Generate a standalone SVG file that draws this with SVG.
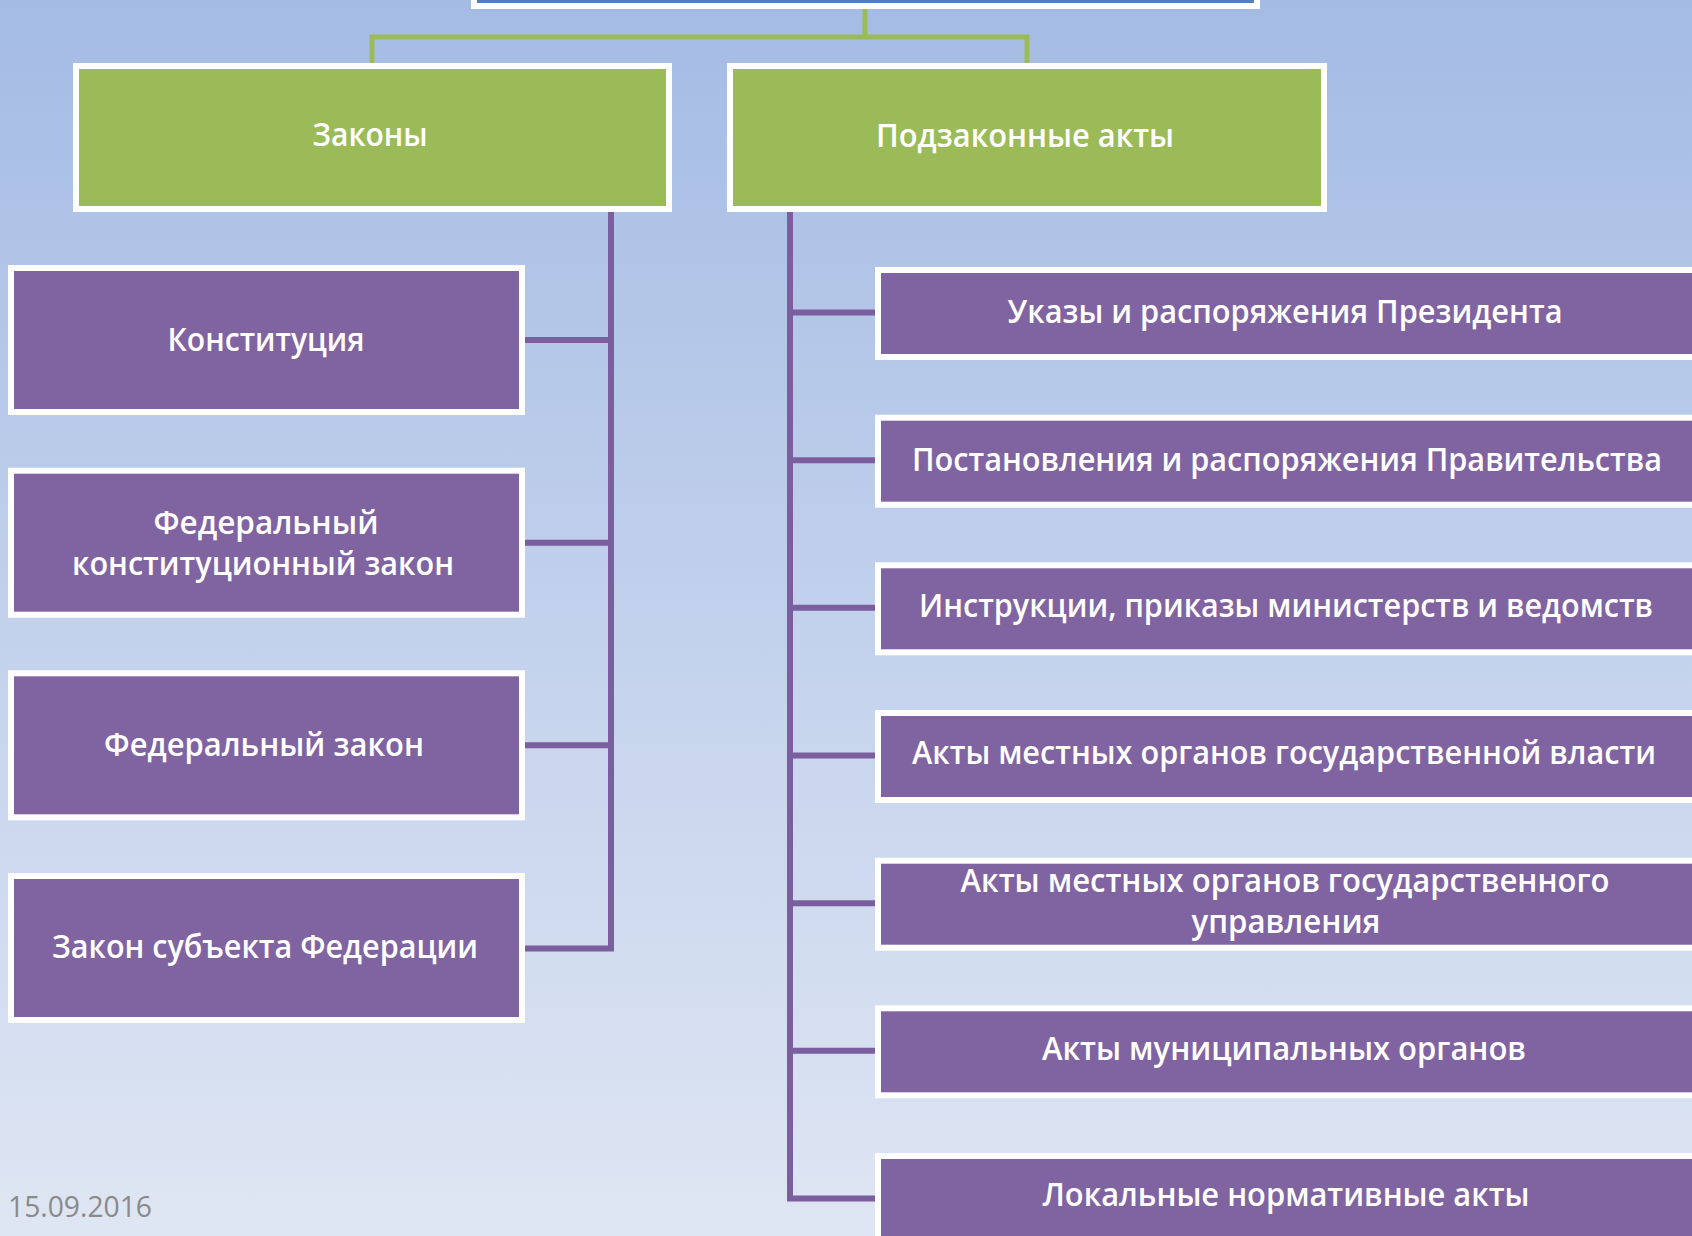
<svg xmlns="http://www.w3.org/2000/svg" width="1692" height="1236" viewBox="0 0 1692 1236">
  <defs>
    <linearGradient id="bg" x1="0" y1="0" x2="0" y2="1">
      <stop offset="0" stop-color="#a4bbe4"/>
      <stop offset="0.5" stop-color="#c2d1ec"/>
      <stop offset="1" stop-color="#dfe6f3"/>
    </linearGradient>
    <style>
      .box { stroke: #ffffff; stroke-width: 6; }
      .green { fill: #9bbb59; }
      .purple { fill: #8064a2; }
      .blue { fill: #4f81bd; }
      .lbl { font-family: "Open Sans", "Liberation Sans", sans-serif; font-weight: 600; font-size: 32px; fill: #ffffff; text-anchor: middle; }
      .conn-p { fill: none; stroke: #7a5e9e; stroke-width: 6; stroke-linejoin: miter; }
      .conn-g { fill: none; stroke: #9bbb59; stroke-width: 5; stroke-linejoin: miter; }
      .date { font-family: "Open Sans", "Liberation Sans", sans-serif; font-size: 29px; fill: #8a8a8a; }
    </style>
  </defs>

  <rect x="0" y="0" width="1692" height="1236" fill="url(#bg)"/>

  <g id="connectors">
    <path class="conn-g" d="M865,9 V37 H372 V63"/>
    <path class="conn-g" d="M865,37 H1027 V63"/>

    <path class="conn-p" d="M611,212 V340 H525"/>
    <path class="conn-p" d="M611,212 V542.7 H525"/>
    <path class="conn-p" d="M611,212 V745.3 H525"/>
    <path class="conn-p" d="M611,212 V948.5 H525"/>

    <path class="conn-p" d="M790,212 V312.5 H875"/>
    <path class="conn-p" d="M790,212 V460.2 H875"/>
    <path class="conn-p" d="M790,212 V607.8 H875"/>
    <path class="conn-p" d="M790,212 V755.5 H875"/>
    <path class="conn-p" d="M790,212 V903.2 H875"/>
    <path class="conn-p" d="M790,212 V1050.8 H875"/>
    <path class="conn-p" d="M790,212 V1198.5 H875"/>
  </g>

  <g id="node-root">
    <rect class="box blue" x="474" y="-50" width="783" height="56" stroke-width="5"/>
  </g>

  <g id="node-zakony">
    <rect class="box green" x="76" y="66" width="593" height="143"/>
    <text class="lbl" x="370" y="146" textLength="115" lengthAdjust="spacingAndGlyphs">Законы</text>
  </g>
  <g id="node-podzakonnye">
    <rect class="box green" x="730" y="66" width="594" height="143"/>
    <text class="lbl" x="1025" y="147" textLength="298" lengthAdjust="spacingAndGlyphs">Подзаконные акты</text>
  </g>

  <g id="node-konstitutsiya">
    <rect class="box purple" x="11" y="268" width="511" height="144"/>
    <text class="lbl" x="266" y="351" textLength="197" lengthAdjust="spacingAndGlyphs">Конституция</text>
  </g>
  <g id="node-fkz">
    <rect class="box purple" x="11" y="470.7" width="511" height="144"/>
    <text class="lbl" x="266" y="534" textLength="225" lengthAdjust="spacingAndGlyphs">Федеральный</text>
    <text class="lbl" x="263" y="575" textLength="382" lengthAdjust="spacingAndGlyphs">конституционный закон</text>
  </g>
  <g id="node-fz">
    <rect class="box purple" x="11" y="673.3" width="511" height="144"/>
    <text class="lbl" x="264" y="756" textLength="320" lengthAdjust="spacingAndGlyphs">Федеральный закон</text>
  </g>
  <g id="node-subject">
    <rect class="box purple" x="11" y="876" width="511" height="144"/>
    <text class="lbl" x="265" y="958" textLength="426" lengthAdjust="spacingAndGlyphs">Закон субъекта Федерации</text>
  </g>

  <g id="node-ukazy">
    <rect class="box purple" x="878" y="270" width="900" height="87"/>
    <text class="lbl" x="1285" y="323" textLength="555" lengthAdjust="spacingAndGlyphs">Указы и распоряжения Президента</text>
  </g>
  <g id="node-postanovleniya">
    <rect class="box purple" x="878" y="417.7" width="900" height="87"/>
    <text class="lbl" x="1287" y="471" textLength="750" lengthAdjust="spacingAndGlyphs">Постановления и распоряжения Правительства</text>
  </g>
  <g id="node-instruktsii">
    <rect class="box purple" x="878" y="565.3" width="900" height="87"/>
    <text class="lbl" x="1286" y="617" textLength="734" lengthAdjust="spacingAndGlyphs">Инструкции, приказы министерств и ведомств</text>
  </g>
  <g id="node-mestnye-vlast">
    <rect class="box purple" x="878" y="713" width="900" height="87"/>
    <text class="lbl" x="1284" y="764" textLength="744" lengthAdjust="spacingAndGlyphs">Акты местных органов государственной власти</text>
  </g>
  <g id="node-mestnye-upravlenie">
    <rect class="box purple" x="878" y="860.7" width="900" height="87"/>
    <text class="lbl" x="1285" y="892" textLength="649" lengthAdjust="spacingAndGlyphs">Акты местных органов государственного</text>
    <text class="lbl" x="1286" y="933" textLength="189" lengthAdjust="spacingAndGlyphs">управления</text>
  </g>
  <g id="node-munitsipalnye">
    <rect class="box purple" x="878" y="1008.3" width="900" height="87"/>
    <text class="lbl" x="1284" y="1060" textLength="484" lengthAdjust="spacingAndGlyphs">Акты муниципальных органов</text>
  </g>
  <g id="node-lokalnye">
    <rect class="box purple" x="878" y="1156" width="900" height="120"/>
    <text class="lbl" x="1286" y="1206" textLength="487" lengthAdjust="spacingAndGlyphs">Локальные нормативные акты</text>
  </g>

  <text class="date" x="8" y="1217" textLength="144" lengthAdjust="spacingAndGlyphs">15.09.2016</text>
</svg>
